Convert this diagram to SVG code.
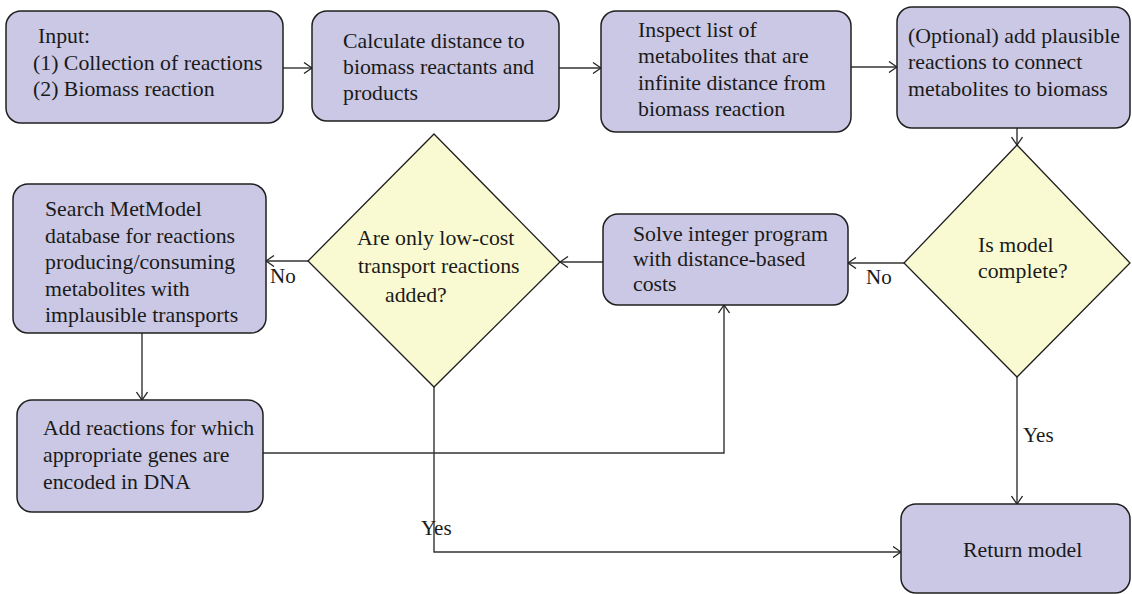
<svg xmlns="http://www.w3.org/2000/svg" width="1132" height="594" viewBox="0 0 1132 594">
<style>
.box{fill:#cac8e4;stroke:#1f1f1f;stroke-width:1.5}
.dia{fill:#fafad2;stroke:#1f1f1f;stroke-width:1.3}
.t{font-family:"Liberation Serif","Times New Roman",serif;font-size:21.8px;fill:#1a1a1a}
.lab{font-family:"Liberation Serif","Times New Roman",serif;font-size:21px;fill:#1a1a1a}
.c{fill:none;stroke:#333;stroke-width:1.4;marker-end:url(#ah)}
</style>
<defs>
<marker id="ah" viewBox="0 0 10 12" refX="9" refY="6" markerWidth="10" markerHeight="12" markerUnits="userSpaceOnUse" orient="auto">
<path d="M1,0.5 L9,6 L1,11.5" fill="none" stroke="#222" stroke-width="1.3"/>
</marker>
</defs>
<rect width="1132" height="594" fill="#fff"/>
<g id="connectors">
<path class="c" d="M283,68 H312"/>
<path class="c" d="M559,68 H601"/>
<path class="c" d="M851,67 H897"/>
<path class="c" d="M1017,128 V145"/>
<path class="c" d="M904,263 H848"/>
<path class="c" d="M603,262 H560"/>
<path class="c" d="M308,261 H266"/>
<path class="c" d="M142,333 V400"/>
<path class="c" d="M263,453 H724 V305"/>
<path class="c" d="M1017,377 V504"/>
<path class="c" d="M434,387 V552 H901"/>
<text class="lab" x="866" y="284">No</text>
<text class="lab" x="270" y="283">No</text>
<text class="lab" x="1023" y="442">Yes</text>
<text class="lab" x="421" y="535">Yes</text>
</g>
<g id="input">
<rect class="box" x="6" y="11" width="277" height="112" rx="15"/>
<text class="t" x="38" y="43">Input:</text>
<text class="t" x="33" y="70">(1) Collection of reactions</text>
<text class="t" x="33" y="96">(2) Biomass reaction</text>
</g>
<g id="calculate">
<rect class="box" x="312" y="11" width="247" height="110" rx="15"/>
<text class="t" x="343" y="48">Calculate distance to</text>
<text class="t" x="343" y="74">biomass reactants and</text>
<text class="t" x="343" y="100">products</text>
</g>
<g id="inspect">
<rect class="box" x="601" y="11" width="250" height="121" rx="15"/>
<text class="t" x="638" y="37">Inspect list of</text>
<text class="t" x="638" y="63">metabolites that are</text>
<text class="t" x="638" y="90">infinite distance from</text>
<text class="t" x="638" y="116">biomass reaction</text>
</g>
<g id="optional">
<rect class="box" x="897" y="7" width="233" height="121" rx="15"/>
<text class="t" x="908" y="43">(Optional) add plausible</text>
<text class="t" x="908" y="69">reactions to connect</text>
<text class="t" x="908" y="96">metabolites to biomass</text>
</g>
<g id="complete">
<polygon class="dia" points="1017,145 1130,263 1017,377 904,263"/>
<text class="t" x="978" y="252">Is model</text>
<text class="t" x="978" y="278">complete?</text>
</g>
<g id="solve">
<rect class="box" x="603" y="214" width="245" height="91" rx="15"/>
<text class="t" x="633" y="241">Solve integer program</text>
<text class="t" x="633" y="266">with distance-based</text>
<text class="t" x="633" y="291">costs</text>
</g>
<g id="lowcost">
<polygon class="dia" points="434,134 560,262 434,387 308,261"/>
<text class="t" x="357" y="245">Are only low-cost</text>
<text class="t" x="358" y="273">transport reactions</text>
<text class="t" x="385" y="302">added?</text>
</g>
<g id="search">
<rect class="box" x="13" y="184" width="253" height="149" rx="15"/>
<text class="t" x="45" y="216">Search MetModel</text>
<text class="t" x="45" y="243">database for reactions</text>
<text class="t" x="45" y="269">producing/consuming</text>
<text class="t" x="45" y="296">metabolites with</text>
<text class="t" x="45" y="322">implausible transports</text>
</g>
<g id="add">
<rect class="box" x="17" y="400" width="246" height="112" rx="15"/>
<text class="t" x="43" y="435">Add reactions for which</text>
<text class="t" x="43" y="462">appropriate genes are</text>
<text class="t" x="43" y="489">encoded in DNA</text>
</g>
<g id="return">
<rect class="box" x="901" y="504" width="229" height="89" rx="15"/>
<text class="t" x="963" y="557">Return model</text>
</g>
</svg>
